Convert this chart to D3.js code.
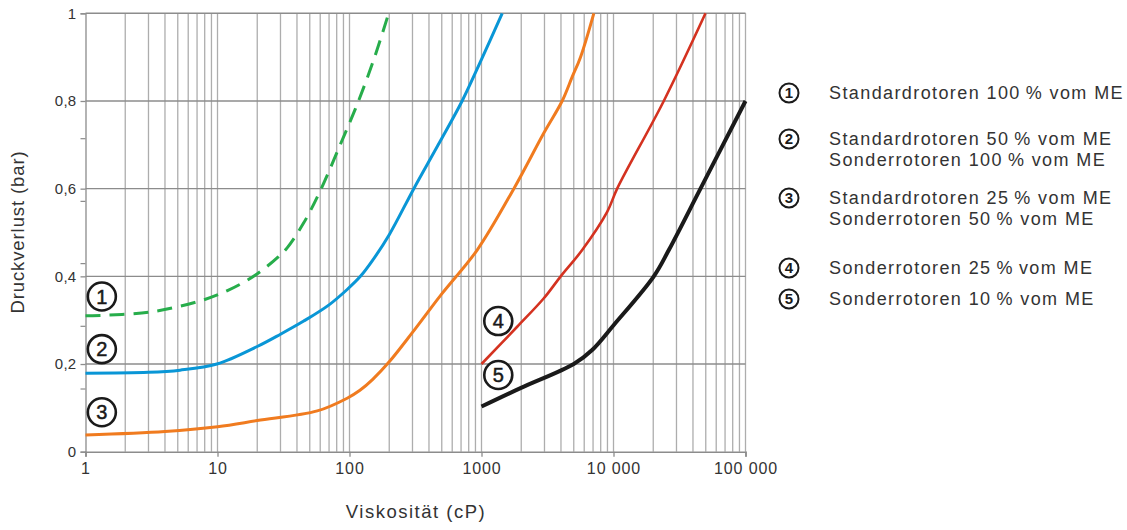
<!DOCTYPE html>
<html><head><meta charset="utf-8">
<script src="https://cdn.jsdelivr.net/npm/d3@7"></script>
<style>body{margin:0;background:#fff}svg{display:block;font-family:"Liberation Sans",Arial,sans-serif}</style>
</head><body>
<svg id="c" width="1127" height="530"></svg>
<script>
// ---- data ----
const xTickValues = [1, 10, 100, 1000, 10000, 100000];
const xTickLabels = ["1", "10", "100", "1000", "10 000", "100 000"];
const yTickValues = [0, 0.2, 0.4, 0.6, 0.8, 1];
const yTickLabels = ["0", "0,2", "0,4", "0,6", "0,8", "1"];
const yMinorTicks = [0.143, 0.286, 0.429, 0.571, 0.714];

const curve1 = [[1,0.31],[3,0.318],[7.4,0.344],[12,0.368],[19.4,0.403],[29,0.445],[33.7,0.465],[45,0.522],[60,0.595],[85,0.7],[117,0.8],[155,0.9],[198,1.0]];
const curve2 = [[1,0.179],[3,0.181],[5.2,0.186],[9.9,0.2],[20,0.24],[30,0.268],[45,0.298],[70,0.335],[96,0.37],[121,0.4],[150,0.437],[200,0.495],[307,0.6],[470,0.7],[713,0.8],[1000,0.895],[1435,1.0]];
const curve3 = [[1,0.038],[4,0.046],[10,0.057],[20,0.071],[57,0.093],[96,0.122],[120,0.14],[150,0.165],[200,0.205],[300,0.272],[500,0.36],[927,0.46],[1758,0.6],[2966,0.727],[4083,0.8],[4865,0.855],[5623,0.9],[7096,1.0]];
const curve4 = [[1000,0.2],[1863,0.285],[2966,0.35],[3981,0.4],[5790,0.46],[8955,0.547],[10660,0.6],[24040,0.8],[49770,1.0]];
const curve5 = [[1000,0.103],[1973,0.145],[5000,0.2],[6889,0.232],[10050,0.289],[20200,0.4],[26250,0.46],[45600,0.6],[100000,0.8]];

const seriesNames = ["1","2","3","4","5"];
const seriesColors = ["#27ad4b","#0996d6","#f07b1f","#d43220","#1a1a1a"];
const seriesWidths = [3, 3, 3, 2.6, 4];

const plotMarkers = [[1.33,0.354],[1.33,0.234],[1.33,0.09],[1340,0.298],[1340,0.175]];

const legendItems = [
  ["Standardrotoren 100\u2009% vom ME"],
  ["Standardrotoren 50\u2009% vom ME","Sonderrotoren 100\u2009% vom ME"],
  ["Standardrotoren 25\u2009% vom ME","Sonderrotoren 50\u2009% vom ME"],
  ["Sonderrotoren 25\u2009%\u2009vom ME"],
  ["Sonderrotoren 10\u2009% vom ME"]
];
const legendRowY = [93, 139, 198, 268, 299];

// ---- chart ----
const FONT = '"Liberation Sans",Arial,sans-serif';
const svg = d3.select("#c");
const x = d3.scaleLog().domain([1, 100000]).range([85.5, 745.5]);
const y = d3.scaleLinear().domain([0, 1]).range([451.7, 13.3]);

// vertical grid (2..9 per decade + decades)
const minorX = [];
for (let d = 1; d < 100000; d *= 10) for (let k = 2; k <= 10; k++) minorX.push(d * k);
const g = svg.append("g");
g.selectAll("line.vx").data(minorX).join("line")
  .attr("x1", d => x(d)).attr("x2", d => x(d)).attr("y1", y(0)).attr("y2", y(1))
  .attr("stroke", "#adadad").attr("stroke-width", 1.3);
g.selectAll("line.hy").data(yTickValues.slice(1)).join("line")
  .attr("x1", x(1)).attr("x2", x(100000)).attr("y1", d => y(d)).attr("y2", d => y(d))
  .attr("stroke", "#8c8c8c").attr("stroke-width", 1.4);

// axes
const xAxis = d3.axisBottom(x).tickValues(xTickValues).tickFormat((d,i) => xTickLabels[i]).tickSize(5).tickPadding(6);
const xa = svg.append("g").attr("transform", `translate(0,${y(0)})`).call(xAxis);
xa.select(".domain").attr("stroke", "#8c8c8c").attr("stroke-width", 1.6);
xa.selectAll(".tick line").attr("stroke", "#8c8c8c").attr("stroke-width", 1.3);
xa.selectAll("text").attr("font-size", 16).attr("fill", "#333").attr("font-family", FONT).attr("letter-spacing", 0.9);

const yAxis = d3.axisLeft(y).tickValues(yTickValues).tickFormat((d,i) => yTickLabels[i]).tickSize(5).tickPadding(4);
const ya = svg.append("g").attr("transform", `translate(${x(1)},0)`).call(yAxis);
ya.select(".domain").attr("stroke", "#8c8c8c").attr("stroke-width", 1.3);
ya.selectAll(".tick line").attr("stroke", "#8c8c8c").attr("stroke-width", 1.3);
ya.selectAll("text").attr("font-size", 15).attr("fill", "#333").attr("font-family", FONT).attr("letter-spacing", 0.3);
svg.append("g").selectAll("line").data(yMinorTicks).join("line")
  .attr("x1", x(1) - 5).attr("x2", x(1)).attr("y1", d => y(d)).attr("y2", d => y(d))
  .attr("stroke", "#8c8c8c").attr("stroke-width", 1.2);

// titles
svg.append("text").attr("transform", `translate(24,232) rotate(-90)`).attr("text-anchor", "middle")
  .attr("font-size", 18.5).attr("letter-spacing", 0.9).attr("fill", "#333").text("Druckverlust (bar)");
svg.append("text").attr("x", 416).attr("y", 518).attr("text-anchor", "middle")
  .attr("font-size", 18.5).attr("letter-spacing", 1.5).attr("fill", "#333").text("Viskosität (cP)");

// curves
const line = d3.line().x(d => x(d[0])).y(d => y(d[1])).curve(d3.curveCatmullRom.alpha(0.5));
const curves = [curve1, curve2, curve3, curve4, curve5];
curves.forEach((c, i) => {
  const p = svg.append("path").attr("d", line(c)).attr("fill", "none")
    .attr("stroke", seriesColors[i]).attr("stroke-width", seriesWidths[i]);
  if (i === 0) p.attr("stroke-dasharray", "15 9");
});

// numbered markers in plot
const mk = svg.append("g").selectAll("g").data(plotMarkers).join("g")
  .attr("transform", d => `translate(${x(d[0])},${y(d[1])})`);
mk.append("circle").attr("r", 14).attr("fill", "#fff").attr("stroke", "#1a1a1a").attr("stroke-width", 2.6);
mk.append("text").attr("text-anchor", "middle").attr("dy", "0.36em").attr("font-size", 20)
  .attr("fill", "#1a1a1a").attr("stroke", "#1a1a1a").attr("stroke-width", 0.5).text((d, i) => seriesNames[i]);

// legend
const lg = svg.append("g").selectAll("g").data(legendItems).join("g")
  .attr("transform", (d, i) => `translate(0,${legendRowY[i]})`);
lg.append("circle").attr("cx", 789).attr("cy", 0).attr("r", 9.5).attr("fill", "#fff")
  .attr("stroke", "#1a1a1a").attr("stroke-width", 2);
lg.append("text").attr("x", 789).attr("y", 0).attr("dy", "0.36em").attr("text-anchor", "middle")
  .attr("font-size", 15).attr("font-weight", "bold").attr("fill", "#1a1a1a").text((d, i) => seriesNames[i]);
lg.each(function(d) {
  const s = d3.select(this);
  d.forEach((t, j) => s.append("text").attr("x", 829).attr("y", j * 21).attr("dy", "0.36em")
    .attr("font-size", 18).attr("letter-spacing", 1.4).attr("fill", "#333").text(t));
});
</script>
</body></html>
